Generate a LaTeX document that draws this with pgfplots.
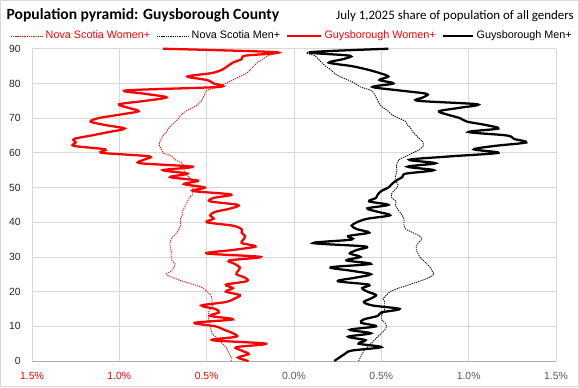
\documentclass[border=0pt]{standalone}
\usepackage{pgfplots}
\pgfplotsset{compat=1.18}
\usepackage{pgfplotstable}
\usepackage{fontspec}
\setmainfont{Liberation Sans}
\newfontfamily\titlefont{Carlito}
\definecolor{xred}{HTML}{FF0000}
\definecolor{gridc}{HTML}{D9D9D9}
\definecolor{labc}{HTML}{595959}
\definecolor{ylabc}{HTML}{262626}
\pgfplotsset{
  limgA/.style={legend image code/.code={\draw[##1] (0pt,0pt) -- (24pt,0pt);}},
  limgB/.style={legend image code/.code={\draw[##1] (0pt,0pt) -- (25pt,0pt);}},
  limgC/.style={legend image code/.code={\draw[##1] (0pt,0pt) -- (22.5pt,0pt);}},
}

\pgfplotstableread{
age nsw nsm gw gm
0 -0.36 0.37 -0.26 0.23
1 -0.36 0.38 -0.32 0.26
2 -0.37 0.39 -0.26 0.29
3 -0.38 0.40 -0.30 0.33
4 -0.39 0.42 -0.33 0.50
5 -0.41 0.44 -0.16 0.37
6 -0.43 0.46 -0.47 0.41
7 -0.45 0.48 -0.33 0.31
8 -0.47 0.50 -0.35 0.44
9 -0.475 0.52 -0.40 0.32
10 -0.48 0.53 -0.45 0.47
11 -0.485 0.52 -0.57 0.385
12 -0.49 0.50 -0.35 0.40
13 -0.49 0.50 -0.48 0.48
14 -0.49 0.51 -0.43 0.50
15 -0.48 0.52 -0.45 0.605
16 -0.465 0.52 -0.53 0.45
17 -0.47 0.52 -0.39 0.40
18 -0.47 0.51 -0.34 0.44
19 -0.475 0.53 -0.31 0.47
20 -0.50 0.55 -0.39 0.42
21 -0.52 0.60 -0.35 0.39
22 -0.57 0.66 -0.39 0.43
23 -0.64 0.72 -0.27 0.25
24 -0.69 0.77 -0.28 0.35
25 -0.73 0.80 -0.33 0.44
26 -0.70 0.79 -0.32 0.33
27 -0.69 0.78 -0.31 0.21
28 -0.68 0.76 -0.34 0.44
29 -0.70 0.74 -0.37 0.30
30 -0.70 0.72 -0.19 0.38
31 -0.70 0.71 -0.50 0.32
32 -0.705 0.70 -0.35 0.36
33 -0.71 0.70 -0.22 0.41
34 -0.71 0.71 -0.30 0.11
35 -0.705 0.73 -0.29 0.33
36 -0.69 0.72 -0.28 0.31
37 -0.67 0.68 -0.30 0.43
38 -0.66 0.64 -0.30 0.36
39 -0.65 0.63 -0.35 0.33
40 -0.65 0.63 -0.50 0.36
41 -0.65 0.63 -0.46 0.42
42 -0.64 0.62 -0.48 0.55
43 -0.64 0.605 -0.45 0.48
44 -0.63 0.59 -0.36 0.42
45 -0.62 0.58 -0.32 0.54
46 -0.61 0.585 -0.48 0.43
47 -0.60 0.56 -0.46 0.47
48 -0.58 0.557 -0.36 0.48
49 -0.58 0.57 -0.58 0.50
50 -0.58 0.59 -0.51 0.54
51 -0.59 0.595 -0.63 0.56
52 -0.59 0.58 -0.55 0.585
53 -0.60 0.58 -0.71 0.62
54 -0.625 0.585 -0.61 0.64
55 -0.63 0.59 -0.75 0.80
56 -0.63 0.586 -0.58 0.65
57 -0.64 0.59 -0.88 0.81
58 -0.68 0.60 -0.86 0.66
59 -0.70 0.64 -0.83 0.90
60 -0.75 0.68 -1.10 1.17
61 -0.76 0.72 -1.08 1.03
62 -0.77 0.74 -1.26 1.15
63 -0.77 0.74 -1.25 1.33
64 -0.76 0.72 -1.26 1.26
65 -0.75 0.70 -1.16 1.22
66 -0.73 0.68 -1.06 1.00
67 -0.72 0.67 -0.97 1.17
68 -0.70 0.65 -1.08 1.10
69 -0.68 0.64 -1.165 0.99
70 -0.66 0.60 -1.12 0.95
71 -0.645 0.56 -1.00 0.88
72 -0.62 0.54 -0.89 0.83
73 -0.58 0.51 -0.95 0.95
74 -0.55 0.49 -1.00 1.05
75 -0.53 0.48 -0.85 0.71
76 -0.52 0.47 -0.73 0.74
77 -0.51 0.46 -0.85 0.76
78 -0.50 0.44 -0.96 0.60
79 -0.43 0.38 -0.43 0.45
80 -0.39 0.35 -0.46 0.57
81 -0.35 0.31 -0.50 0.49
82 -0.31 0.26 -0.61 0.54
83 -0.27 0.23 -0.47 0.49
84 -0.25 0.21 -0.41 0.42
85 -0.23 0.18 -0.38 0.33
86 -0.21 0.16 -0.35 0.20
87 -0.18 0.14 -0.30 0.28
88 -0.15 0.12 -0.28 0.32
89 -0.14 0.09 -0.10 0.09
90 -0.70 0.50 -0.75 0.54
}\pyr

\begin{document}
\begin{tikzpicture}
\useasboundingbox (0,0) rectangle (434.25pt,290.25pt);
\draw[gridc, line width=0.6pt] (0.4pt,0.4pt) rectangle (433.85pt,289.85pt);
\node[anchor=base west, font=\titlefont\bfseries\fontsize{11.7}{14}\selectfont, inner sep=0pt] at (4.8pt,276pt) {Population pyramid: Guysborough County};
\node[anchor=base east, font=\titlefont\fontsize{9.7}{12}\selectfont, inner sep=0pt] at (430.5pt,276pt) {July 1,2025 share of population of all genders};
\begin{axis}[
  at={(24pt,19.5pt)}, anchor=south west,
  scale only axis, width=393pt, height=234.2pt,
  xmin=-1.5, xmax=1.5, ymin=0, ymax=90,
  clip=false,
  xtick={-1.5,-1,-0.5,0,0.5,1,1.5},
  xticklabels={\textcolor{xred}{1.5\%},\textcolor{xred}{1.0\%},\textcolor{xred}{0.5\%},0.0\%,0.5\%,1.0\%,1.5\%},
  ytick={0,10,...,90},
  grid=major,
  major grid style={gridc, line width=0.6pt},
  axis x line*=bottom, axis y line*=left,
  x axis line style={draw=gridc!80!black, line width=0.6pt},
  y axis line style={draw=gridc, line width=0.6pt},
  tick style={draw=none},
  /pgf/number format/assume math mode=true,
  ticklabel style={font=\fontsize{7.8}{9}\selectfont},
  xticklabel style={text=labc, yshift=-5pt},
  yticklabel style={text=ylabc, xshift=-5pt},
  legend columns=4,
  legend style={at={(-0.042,1.041)}, anchor=west, draw=none, fill=none,
    inner sep=0pt, font=\fontsize{8.1}{9}\selectfont,
    nodes={inner sep=2pt},
    /tikz/every even column/.append style={column sep=2.5pt}},
  legend cell align=left,
]
\addplot[xred, line width=0.6pt, dash pattern=on 1pt off 0.7pt, smooth, limgA]
  table[x=nsw,y=age]{\pyr};
\addlegendentry{\textcolor{xred}{Nova Scotia Women+}}
\addplot[black, line width=0.6pt, dash pattern=on 1pt off 0.7pt, smooth, limgA]
  table[x=nsm,y=age]{\pyr};
\addlegendentry{Nova Scotia Men+}
\addplot[xred, line width=1.7pt, smooth, limgB]
  table[x=gw,y=age]{\pyr};
\addlegendentry{\textcolor{xred}{Guysborough Women+}}
\addplot[black, line width=1.7pt, smooth, limgC]
  table[x=gm,y=age]{\pyr};
\addlegendentry{Guysborough Men+}
\end{axis}
\end{tikzpicture}
\end{document}
